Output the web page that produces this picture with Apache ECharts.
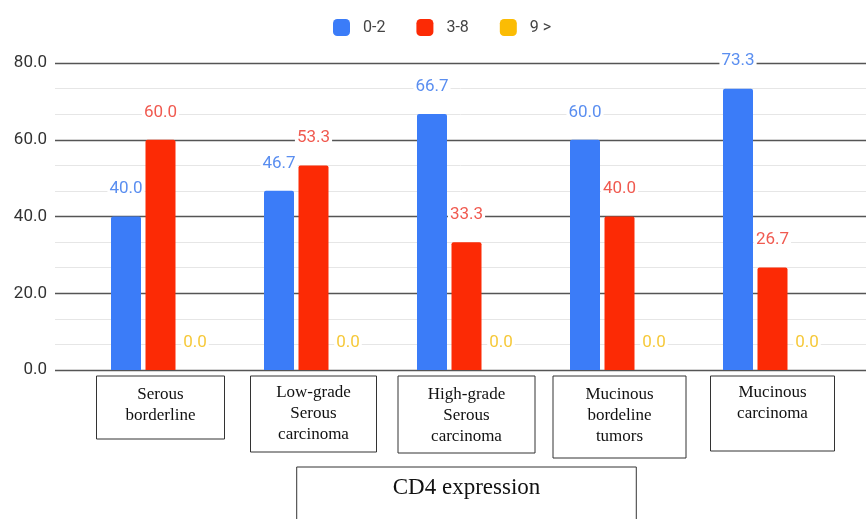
<!DOCTYPE html>
<html>
<head>
<meta charset="utf-8">
<script src="https://cdn.jsdelivr.net/npm/echarts@6/dist/echarts.min.js"></script>
<style>html,body{margin:0;padding:0;background:#fff}#c{width:866px;height:519px}</style>
</head>
<body>
<div id="c"></div>
<script>
const categories = [
  'Serous\nborderline',
  'Low-grade\nSerous\ncarcinoma',
  'High-grade\nSerous\ncarcinoma',
  'Mucinous\nbordeline\ntumors',
  'Mucinous\ncarcinoma'
];
const seriesNames = ['0-2', '3-8', '9 >'];
const values02 = [40.0, 46.7, 66.7, 60.0, 73.3];
const values38 = [60.0, 53.3, 33.3, 40.0, 26.7];
const values9 = [0.0, 0.0, 0.0, 0.0, 0.0];
const yTicks = [0, 20, 40, 60, 80];
const axisTitle = 'CD4 expression';

// per-category box styles (label boxes)
const boxStyles = [
  {width: 128, height: 55, padding: [8, 0, 0, 0]},
  {width: 126, height: 70, padding: [6, 0, 0, 0]},
  {width: 137, height: 69, padding: [8, 0, 0, 0]},
  {width: 133, height: 74, padding: [8, 0, 0, 0]},
  {width: 124, height: 69, padding: [6, 0, 0, 0]}
];

const barColors = ['#3b7cf8', '#fc2a05', '#fbbc04'];
const labelColors = ['#5a8ef0', '#f05a50', '#f6c93a'];

const chart = echarts.init(document.getElementById('c'), null, {renderer: 'canvas'});

function barSeries(name, data, i) {
  return {
    name: name,
    type: 'bar',
    xAxisIndex: 1,
    yAxisIndex: 1,
    data: data,
    barWidth: 30,
    barGap: '15%',
    itemStyle: {color: barColors[i], borderRadius: [2, 2, 0, 0]},
    label: {
      show: true,
      position: 'top',
      distance: 19,
      formatter: p => p.value.toFixed(1),
      color: labelColors[i],
      fontFamily: 'Roboto',
      fontSize: 17,
      backgroundColor: '#fff',
      padding: [0, 2]
    }
  };
}

chart.setOption({
  animation: false,
  backgroundColor: '#fff',
  legend: {
    data: seriesNames,
    top: 14,
    left: 328,
    icon: 'roundRect',
    itemWidth: 17,
    itemHeight: 17,
    itemGap: 31,
    textStyle: {fontFamily: 'Roboto', fontSize: 16, color: '#444', padding: [0, 0, 0, 8]}
  },
  grid: [
    {left: 55, right: 0, top: 63, bottom: 149, outerBoundsMode: 'none', containLabel: false},
    {left: 84, right: 17, top: 63, bottom: 149, outerBoundsMode: 'none', containLabel: false}
  ],
  xAxis: [
    {gridIndex: 0, type: 'value', show: false, min: 0, max: 1},
    {
      gridIndex: 1,
      type: 'category',
      data: categories.map((c, i) => ({
        value: c,
        textStyle: Object.assign({
          borderColor: '#333',
          borderWidth: 1,
          align: 'center',
          verticalAlign: 'top'
        }, boxStyles[i])
      })),
      axisLine: {show: false},
      axisTick: {show: false},
      axisLabel: {
        interval: 0,
        margin: 6,
        fontFamily: 'Liberation Serif',
        fontSize: 17,
        lineHeight: 21,
        color: '#111'
      },
      name: axisTitle,
      nameLocation: 'middle',
      nameGap: 97,
      nameTextStyle: {
        fontFamily: 'Liberation Serif',
        fontSize: 23,
        lineHeight: 26,
        color: '#111',
        borderColor: '#333',
        borderWidth: 1,
        height: 60,
        padding: [8, 96, 0, 96],
        align: 'center',
        verticalAlign: 'top'
      }
    }
  ],
  yAxis: [
    {
      gridIndex: 0,
      type: 'value',
      min: yTicks[0],
      max: yTicks[yTicks.length - 1],
      interval: 20,
      axisLine: {show: false},
      axisTick: {show: false},
      axisLabel: {
        formatter: v => v.toFixed(1),
        fontFamily: 'Roboto',
        fontSize: 17,
        color: '#333',
        margin: 8
      },
      splitLine: {lineStyle: {color: '#555', width: 1.3}},
      minorTick: {show: false, splitNumber: 3},
      minorSplitLine: {show: true, lineStyle: {color: '#e6e6e6', width: 1}}
    },
    {
      gridIndex: 1,
      type: 'value',
      min: yTicks[0],
      max: yTicks[yTicks.length - 1],
      interval: 20,
      show: false,
      splitLine: {show: false}
    }
  ],
  series: [
    barSeries(seriesNames[0], values02, 0),
    barSeries(seriesNames[1], values38, 1),
    barSeries(seriesNames[2], values9, 2)
  ]
});
</script>
</body>
</html>
